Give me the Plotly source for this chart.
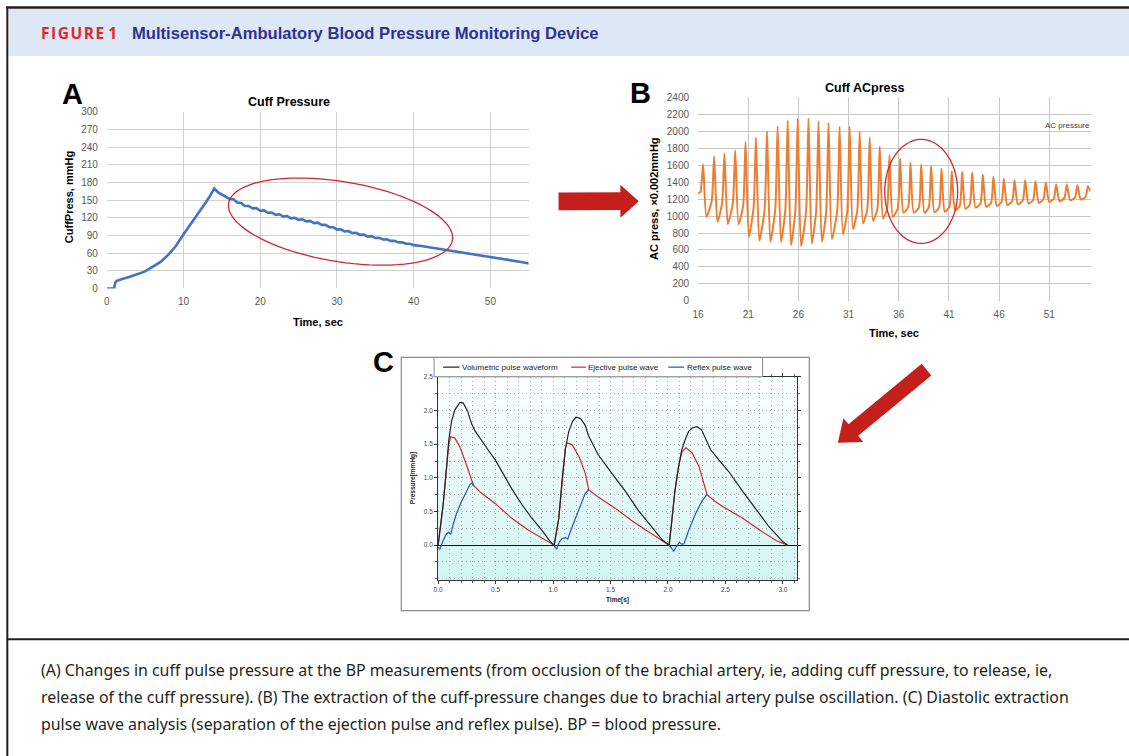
import math
import plotly.graph_objects as go

W, H = 1129, 756

# ---------------- Panel A: cuff pressure ----------------
a_time = [0, 0.95, 1.0, 1.1, 1.3, 1.6, 2, 3, 4, 5, 6, 7, 8, 9, 10, 11, 12, 13, 13.5, 14.0,
          14.5, 15.0, 15.5, 16.0, 16.5, 17.0, 17.5, 18.0, 18.5, 19.0, 19.5, 20.0, 20.5, 21.0,
          21.5, 22.0, 22.5, 23.0, 23.5, 24.0, 24.5, 25.0, 25.5, 26.0, 26.5, 27.0, 27.5, 28.0,
          28.5, 29.0, 29.5, 30.0, 30.5, 31.0, 31.5, 32.0, 32.5, 33.0, 33.5, 34.0, 34.5, 35.0,
          35.5, 36.0, 36.5, 37.0, 37.5, 38.0, 38.5, 39.0, 39.5, 40.0, 41, 42, 43, 44, 45, 46,
          47, 48, 49, 50, 51, 52, 53, 54, 55]
a_press = [0, 0, 4, 10, 13, 14.5, 16, 20, 24, 29, 37, 45, 57, 72, 92, 110, 130, 148, 158, 170,
           163, 159, 156, 152, 151.5, 146, 145, 140, 140, 136, 136.5, 132, 132.5, 128.5,
           129, 125, 126, 122, 123, 119, 120, 116.5, 117.5, 114, 114.8, 111, 111.8, 108,
           108, 104, 104, 100, 100.5, 97, 97.5, 94, 94.5, 91, 91.5, 88, 88.8, 85.6,
           86, 83.2, 83.5, 80.8, 81, 78.3, 78.4, 75.9, 75.8, 73.5, 72, 70, 68, 66, 63.5, 61.5,
           59.5, 57.5, 55, 53, 51, 49, 47, 45, 42.5]
a_xticks = [0, 10, 20, 30, 40, 50]

# ---------------- Panel B: AC pressure (per beat) ----------------
b_start_t = [16.0, 16.15]
b_start_v = [1267, 1275]
b_foot_t = [16.26, 17.36, 18.39, 19.46, 20.49, 21.53, 22.63, 23.69, 24.69, 25.69, 26.76, 27.76,
            28.76, 29.86, 30.86, 31.86, 32.86, 33.86, 34.83, 35.89, 36.92, 37.99, 38.98, 40.01,
            41.04, 42.07, 43.07, 44.13, 45.19, 46.23, 47.29, 48.35, 49.38, 50.41, 51.44, 52.50,
            53.56, 54.60]
b_foot_v = [1290, 1180, 1150, 1150, 1120, 1100, 1080, 1080, 1060, 1060, 1050, 1050,
            1040, 1060, 1050, 1060, 1080, 1080, 1080, 1090, 1100, 1100, 1100, 1100,
            1110, 1120, 1135, 1145, 1155, 1165, 1175, 1185, 1190, 1200, 1205, 1215,
            1220, 1225]
b_peak_t = [16.50, 17.60, 18.63, 19.70, 20.73, 21.77, 22.87, 23.93, 24.93, 25.93, 27.00, 28.00,
            29.00, 30.10, 31.10, 32.10, 33.10, 34.10, 35.07, 36.13, 37.16, 38.23, 39.22, 40.25,
            41.28, 42.31, 43.31, 44.37, 45.43, 46.47, 47.53, 48.59, 49.62, 50.65, 51.68, 52.74,
            53.80, 54.84]
b_peak_v = [1609, 1707, 1739, 1778, 1876, 1924, 2002, 2061, 2132, 2152, 2152, 2120,
            2100, 2054, 2054, 1995, 1928, 1820, 1719, 1680, 1629, 1609, 1593, 1562,
            1530, 1522, 1515, 1491, 1463, 1436, 1424, 1424, 1412, 1397, 1373, 1373,
            1365, 1353]
b_trough_t = [16.83, 17.93, 18.96, 20.03, 21.06, 22.10, 23.20, 24.26, 25.26, 26.26, 27.33, 28.33,
              29.33, 30.43, 31.43, 32.43, 33.43, 34.43, 35.40, 36.46, 37.49, 38.56, 39.55, 40.58,
              41.61, 42.64, 43.64, 44.70, 45.76, 46.80, 47.86, 48.92, 49.95, 50.98, 52.01, 53.07,
              54.13, 55.10]
b_trough_v = [991, 932, 905, 905, 755, 708, 696, 696, 657, 645, 677, 696,
              728, 783, 846, 913, 944, 971, 991, 1042, 1040, 1040, 1045, 1050,
              1070, 1085, 1100, 1110, 1121, 1130, 1140, 1149, 1155, 1168, 1175, 1188,
              1195, 1290]
b_xticks = [16, 21, 26, 31, 36, 41, 46, 51]

# ---------------- Panel C: pulse waves ----------------
c_vol_t = [0, 0.044, 0.073, 0.093, 0.117, 0.146, 0.19, 0.219, 0.257, 0.29, 0.32, 0.38, 0.437,
           0.496, 0.554, 0.64, 0.73, 0.816, 0.904, 0.977, 1.01,
           1.05, 1.08, 1.108, 1.137, 1.17, 1.2, 1.24, 1.28, 1.31, 1.34, 1.39, 1.51, 1.63, 1.74,
           1.86, 1.95, 2.01,
           2.03, 2.06, 2.09, 2.12, 2.15, 2.18, 2.21, 2.25, 2.29, 2.33, 2.37, 2.44, 2.53, 2.65,
           2.77, 2.88, 3.0, 3.04]
c_vol_v = [0, 0.6, 1.14, 1.56, 1.84, 2.01, 2.12, 2.11, 1.99, 1.81, 1.70, 1.56, 1.41,
           1.27, 1.09, 0.84, 0.60, 0.40, 0.22, 0.05, 0.0,
           0.4, 1.0, 1.44, 1.69, 1.84, 1.90, 1.88, 1.78, 1.62, 1.52, 1.35, 1.07, 0.80, 0.52,
           0.27, 0.08, 0.0,
           0.3, 0.8, 1.15, 1.42, 1.57, 1.69, 1.74, 1.76, 1.72, 1.57, 1.42, 1.27, 1.09, 0.80,
           0.52, 0.27, 0.05, 0.0]
c_eje_t = [0, 0.044, 0.073, 0.093, 0.11, 0.146, 0.19, 0.233, 0.268, 0.306, 0.38, 0.496, 0.64,
           0.787, 0.904, 1.01,
           1.05, 1.08, 1.108, 1.122, 1.166, 1.224, 1.28, 1.31, 1.39, 1.54, 1.68, 1.83, 2.01,
           2.03, 2.06, 2.09, 2.12, 2.155, 2.21, 2.27, 2.31, 2.34, 2.41, 2.5, 2.65, 2.8, 2.94, 3.04]
c_eje_v = [0, 0.6, 1.14, 1.5, 1.61, 1.59, 1.46, 1.27, 1.09, 0.89, 0.77, 0.62, 0.40,
           0.22, 0.10, 0.0,
           0.4, 1.0, 1.44, 1.52, 1.49, 1.32, 1.07, 0.82, 0.72, 0.55, 0.37, 0.2, 0.0,
           0.3, 0.8, 1.15, 1.38, 1.45, 1.37, 1.17, 0.92, 0.75, 0.65, 0.55, 0.40, 0.22, 0.07, 0.0]
c_ref_t = [0, 0.015, 0.044, 0.073, 0.093, 0.11, 0.13, 0.16, 0.204, 0.248, 0.277, 0.3, 0.306, None,
           1.006, 1.03, 1.055, 1.08, 1.108, 1.128, 1.15, 1.195, 1.24, 1.28, 1.31, None,
           2.01, 2.05, 2.08, 2.1, 2.12, 2.14, 2.18, 2.24, 2.3, 2.34]
c_ref_v = [-0.03, -0.06, 0.07, 0.17, 0.19, 0.16, 0.30, 0.47, 0.65, 0.81, 0.90, 0.93, 0.89, None,
           0.0, -0.06, 0.05, 0.10, 0.11, 0.09, 0.2, 0.40, 0.60, 0.77, 0.82, None,
           0.0, -0.09, 0.0, 0.04, 0.015, 0.02, 0.22, 0.47, 0.67, 0.75]
c_xticks = [0, 0.5, 1.0, 1.5, 2.0, 2.5, 3.0]
c_yticks = [0, 0.5, 1.0, 1.5, 2.0, 2.5]

caption_lines = [
    "(A) Changes in cuff pulse pressure at the BP measurements (from occlusion of the brachial artery, ie, adding cuff pressure, to release, ie,",
    "release of the cuff pressure). (B) The extraction of the cuff-pressure changes due to brachial artery pulse oscillation. (C) Diastolic extraction",
    "pulse wave analysis (separation of the ejection pulse and reflex pulse). BP = blood pressure.",
]

# assemble panel B series from the per-beat arrays
b_t = list(b_start_t)
b_v = list(b_start_v)
for i in range(len(b_peak_t)):
    b_t += [b_foot_t[i], b_peak_t[i], b_trough_t[i]]
    b_v += [b_foot_v[i], b_peak_v[i], b_trough_v[i]]

# small correction for the capture of the page (measured offset/scale)
OX, SX = 6.2, 0.991
OY, SY = 5.9, 0.984


def px(x):
    return ((x - OX) / SX) / W


def py(y):
    return 1 - ((y - OY) / SY) / H


FONT = "Liberation Sans"

fig = go.Figure()
fig.add_trace(go.Scatter(x=a_time, y=a_press, mode="lines", name="CuffPress",
                         line=dict(color="#4472c4", width=2.6), xaxis="x", yaxis="y",
                         showlegend=False))
fig.add_trace(go.Scatter(x=b_t, y=b_v, mode="lines", name="AC pressure",
                         line=dict(color="#ed7d31", width=2, shape="spline", smoothing=0.6),
                         xaxis="x2", yaxis="y2", showlegend=False))
fig.add_trace(go.Scatter(x=c_eje_t, y=c_eje_v, mode="lines", name="Ejective pulse wave",
                         line=dict(color="#d62728", width=1.2), xaxis="x3", yaxis="y3",
                         showlegend=False))
fig.add_trace(go.Scatter(x=c_vol_t, y=c_vol_v, mode="lines", name="Volumetric pulse waveform",
                         line=dict(color="#222222", width=1.2), xaxis="x3", yaxis="y3",
                         showlegend=False))
fig.add_trace(go.Scatter(x=c_ref_t, y=c_ref_v, mode="lines", name="Reflex pulse wave",
                         line=dict(color="#2a4fd0", width=1.2), xaxis="x3", yaxis="y3",
                         showlegend=False, connectgaps=False))

tickA = dict(family=FONT, size=10, color="#595959")
grid_gray = "#d0d0d0"
cgrid = "#b0b0b0"
cdash = "1px,3px"

layout = dict(
    width=W, height=H, margin=dict(l=0, r=0, t=0, b=0),
    paper_bgcolor="white", plot_bgcolor="rgba(0,0,0,0)",
    font=dict(family=FONT),
    xaxis=dict(domain=[px(106.7), px(527)], range=[0, 55], anchor="y",
               tickvals=a_xticks, showgrid=True, gridcolor=grid_gray, gridwidth=1,
               zeroline=False, showline=False, ticks="", tickfont=tickA,
               ticklabelstandoff=6),
    yaxis=dict(domain=[py(288.3), py(111.7)], range=[0, 300], anchor="x",
               tick0=0, dtick=30, showgrid=True, gridcolor=grid_gray, gridwidth=1,
               zeroline=False, showline=False, ticks="", tickfont=tickA,
               ticklabelstandoff=8),
    xaxis2=dict(domain=[px(695.7), px(1086.7)], range=[16, 55.1], anchor="y2",
                tickvals=b_xticks, showgrid=True, gridcolor="#c8c8c8", gridwidth=1,
                zeroline=False, showline=False, ticks="", tickfont=tickA,
                ticklabelstandoff=6),
    yaxis2=dict(domain=[py(300.7), py(97.3)], range=[0, 2400], anchor="x2",
                tick0=0, dtick=200, showgrid=True, gridcolor="#c8c8c8", gridwidth=1,
                zeroline=False, showline=False, ticks="", tickfont=tickA,
                ticklabelstandoff=8),
    xaxis3=dict(domain=[px(436.7), px(794)], range=[0, 3.12], anchor="y3",
                tickvals=c_xticks, tickformat=".1f", showgrid=True, gridcolor=cgrid,
                griddash=cdash, gridwidth=1, zeroline=False, showline=True,
                linecolor="#333333", linewidth=1, mirror="ticks", ticks="outside",
                ticklen=3, tickcolor="#333333",
                tickfont=dict(family=FONT, size=6.5, color="#444444"),
                minor=dict(dtick=0.1, tick0=0, showgrid=True, gridcolor=cgrid,
                           griddash=cdash, ticks="outside", ticklen=2, tickcolor="#666666")),
    yaxis3=dict(domain=[py(580), py(376.7)], range=[-0.52, 2.5], anchor="x3",
                tickvals=c_yticks, tickformat=".1f", showgrid=True, gridcolor=cgrid,
                griddash=cdash, gridwidth=1, zeroline=True, zerolinecolor="#111111",
                zerolinewidth=1.2, showline=True, linecolor="#333333", linewidth=1,
                mirror="ticks", ticks="outside", ticklen=3, tickcolor="#333333",
                tickfont=dict(family=FONT, size=6.5, color="#444444"),
                minor=dict(tickvals=[-0.5, -0.25, 0.25, 0.75, 1.25, 1.75, 2.25],
                           showgrid=True, gridcolor=cgrid, griddash=cdash,
                           ticks="outside", ticklen=2, tickcolor="#666666")),
)
fig.update_layout(**layout)

shapes = []
# header band and borders
shapes.append(dict(type="rect", xref="paper", yref="paper", x0=px(8.5), x1=px(1140),
                   y0=py(56), y1=py(8.5), fillcolor="#dce8f5", line=dict(width=0), layer="below"))
shapes.append(dict(type="line", xref="paper", yref="paper", x0=px(6.5), x1=px(1140),
                   y0=py(7.3), y1=py(7.3), line=dict(color="#231f20", width=2.5)))
shapes.append(dict(type="line", xref="paper", yref="paper", x0=px(7.5), x1=px(7.5),
                   y0=py(6.3), y1=py(770), line=dict(color="#231f20", width=2)))
shapes.append(dict(type="line", xref="paper", yref="paper", x0=px(7), x1=px(1140),
                   y0=py(639), y1=py(639), line=dict(color="#231f20", width=2)))

# panel C background gradient (plot area)
n_bands = 30
top, bot = 376.7, 580.0
c0 = (252, 255, 255)
c1 = (210, 245, 244)
for i in range(n_bands):
    f = (i + 0.5) / n_bands
    col = "rgb(%d,%d,%d)" % tuple(round(c0[k] + (c1[k] - c0[k]) * f) for k in range(3))
    y0 = top + (bot - top) * i / n_bands
    y1 = top + (bot - top) * (i + 1) / n_bands + 0.6
    shapes.append(dict(type="rect", xref="paper", yref="paper", x0=px(436.7), x1=px(794),
                       y0=py(min(y1, bot)), y1=py(y0), fillcolor=col, line=dict(width=0),
                       layer="below"))
# panel C outer frame and legend box
shapes.append(dict(type="rect", xref="paper", yref="paper", x0=px(400), x1=px(806.5),
                   y0=py(610.5), y1=py(357.3), line=dict(color="#8c8c8c", width=1.2),
                   fillcolor="rgba(0,0,0,0)"))
shapes.append(dict(type="rect", xref="paper", yref="paper", x0=px(432.7), x1=px(760),
                   y0=py(376.7), y1=py(357.3), line=dict(color="#8c8c8c", width=1),
                   fillcolor="white"))
legend_items = [(441.7, 458.0, "#222222"), (569.3, 584.0, "#d62728"), (666.0, 681.7, "#2a4fd0")]
for x0, x1, col in legend_items:
    shapes.append(dict(type="line", xref="paper", yref="paper", x0=px(x0), x1=px(x1),
                       y0=py(367), y1=py(367), line=dict(color=col, width=1.2)))

# panel B legend cover box
shapes.append(dict(type="rect", xref="paper", yref="paper", x0=px(1033), x1=px(1092),
                   y0=py(135), y1=py(116), fillcolor="white", line=dict(width=0),
                   layer="between"))


# ellipses
def ellipse_path(cx, cy, a, b, ang_deg, n=90):
    th = math.radians(ang_deg)
    pts = []
    for k in range(n + 1):
        phi = 2 * math.pi * k / n
        x = cx + a * math.cos(phi) * math.cos(th) - b * math.sin(phi) * math.sin(th)
        y = cy + a * math.cos(phi) * math.sin(th) + b * math.sin(phi) * math.cos(th)
        pts.append((px(x), py(y)))
    return "M " + " L ".join("%.5f,%.5f" % p for p in pts) + " Z"


shapes.append(dict(type="path", xref="paper", yref="paper",
                   path=ellipse_path(339.5, 221.5, 113, 40, 9.4),
                   line=dict(color="#d0282a", width=1.3)))
shapes.append(dict(type="path", xref="paper", yref="paper",
                   path=ellipse_path(918, 191.3, 36.3, 52, 0),
                   line=dict(color="#d0282a", width=1.3)))


# block arrows
def arrow_path(tail, tip, shaft_hw, head_hw, head_len):
    dx, dy = tip[0] - tail[0], tip[1] - tail[1]
    L = math.hypot(dx, dy)
    ux, uy = dx / L, dy / L
    nx, ny = -uy, ux
    bx, by = tip[0] - ux * head_len, tip[1] - uy * head_len
    pts = [(tail[0] + nx * shaft_hw, tail[1] + ny * shaft_hw),
           (bx + nx * shaft_hw, by + ny * shaft_hw),
           (bx + nx * head_hw, by + ny * head_hw),
           tip,
           (bx - nx * head_hw, by - ny * head_hw),
           (bx - nx * shaft_hw, by - ny * shaft_hw),
           (tail[0] - nx * shaft_hw, tail[1] - ny * shaft_hw)]
    return "M " + " L ".join("%.5f,%.5f" % (px(x), py(y)) for x, y in pts) + " Z"


ARROW = "#c41f1a"
shapes.append(dict(type="path", xref="paper", yref="paper",
                   path=arrow_path((556.7, 201.2), (636.7, 201.0), 8.9, 16.5, 18.4),
                   fillcolor=ARROW, line=dict(width=0)))
shapes.append(dict(type="path", xref="paper", yref="paper",
                   path=arrow_path((923.3, 369.5), (835.0, 442.7), 7.5, 15.5, 20),
                   fillcolor=ARROW, line=dict(width=0)))

fig.update_layout(shapes=shapes)

ann = []


def text(x, y, s, size, color="#000000", bold=False, family=FONT, xanchor="center",
         angle=0, yanchor="middle"):
    ann.append(dict(x=px(x), y=py(y), xref="paper", yref="paper", text=s, showarrow=False,
                    xanchor=xanchor, yanchor=yanchor, textangle=angle,
                    font=dict(family=family, size=size, color=color,
                              weight="bold" if bold else "normal")))


# header
text(39, 33, "F\u200aI\u200aG\u200aU\u200aR\u200aE\u2009\u200a1", 15.5, "#e3262d", True,
     "Open Sans", xanchor="left")
text(130, 33, "Multisensor-Ambulatory Blood Pressure Monitoring Device", 16.6, "#2e3192",
     True, FONT, xanchor="left")

# panel A
text(72.5, 94, "A", 29, "#000000", True)
text(288, 101.7, "Cuff Pressure", 12.5, "#000000", True)
text(69, 197, "CuffPress, mmHg", 11, "#000000", True, angle=-90)
text(316.7, 321.7, "Time, sec", 11, "#000000", True)

# panel B
text(638, 93, "B", 29, "#000000", True)
text(862, 87.7, "Cuff ACpress", 12.5, "#000000", True)
text(651.7, 198, "AC press, \u00d70.002mmHg", 11, "#000000", True, angle=-90)
text(891, 333, "Time, sec", 11, "#000000", True)
text(1064, 125, "AC pressure", 8, "#404040")

# panel C
text(382.5, 362, "C", 29, "#000000", True)
text(458.5, 367, "Volumetric pulse waveform", 8, "#222222", xanchor="left")
text(584.5, 367, "Ejective pulse wave", 8, "#222222", xanchor="left")
text(682.2, 367, "Reflex pulse wave", 8, "#222222", xanchor="left")
text(411.7, 478, "Pressure[mmHg]", 6.5, "#222222", True, angle=-90)
text(615, 600, "Time[s]", 6.5, "#222222", True)

# caption
for i, line in enumerate(caption_lines):
    text(39, 670 + 27 * i, line, 15.9, "#231f20", False, "Noto Sans", xanchor="left")

fig.update_layout(annotations=ann)
fig.write_html("out.html", config={"displayModeBar": False},
               post_script="document.body.style.margin='0';document.body.style.padding='0';"
                           "document.documentElement.style.overflow='hidden';")
